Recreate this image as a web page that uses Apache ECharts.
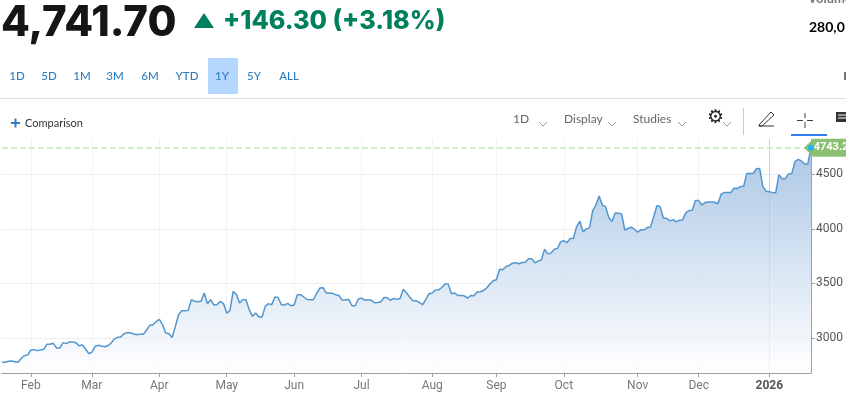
<!DOCTYPE html>
<html>
<head>
<meta charset="utf-8">
<title>Index chart</title>
<script src="https://cdn.jsdelivr.net/npm/echarts@6/dist/echarts.min.js"></script>
<style>
  html, body { margin: 0; padding: 0; background: #fff; overflow: hidden; }
  #chart { width: 846px; height: 395px; }
</style>
</head>
<body>
<div id="chart"></div>
<script>
// closing values, one per trading day
const closes = [
  2778,2778,2787,2790,2784,2778,2815,2839,2845,2891,
  2894,2885,2891,2897,2943,2943,2952,2909,2909,2958,
  2949,2964,2964,2958,2930,2937,2900,2857,2870,2924,
  2934,2927,2921,2930,2955,2991,3007,3010,3040,3049,
  3049,3037,3031,3034,3034,3071,3116,3122,3150,3171,
  3123,3046,3040,3005,3107,3214,3251,3251,3254,3351,
  3336,3333,3336,3412,3315,3351,3302,3308,3336,3315,
  3229,3251,3427,3400,3321,3351,3351,3260,3199,3229,
  3193,3193,3290,3315,3305,3376,3372,3305,3302,3318,
  3296,3302,3397,3397,3376,3354,3351,3351,3406,3458,
  3461,3412,3412,3409,3396,3387,3345,3351,3354,3296,
  3296,3357,3366,3348,3348,3348,3323,3326,3332,3372,
  3369,3345,3363,3354,3363,3448,3412,3375,3342,3342,
  3326,3305,3351,3406,3412,3439,3442,3463,3494,3494,
  3406,3412,3390,3390,3387,3366,3390,3387,3421,3424,
  3436,3460,3495,3525,3534,3631,3625,3656,3665,3686,
  3689,3680,3692,3695,3726,3726,3689,3707,3714,3814,
  3771,3778,3814,3820,3881,3893,3875,3912,3915,4021,
  4070,3973,4000,4009,4168,4219,4302,4216,4204,4104,
  4067,4146,4143,4137,3988,4003,4015,3997,3970,3991,
  3991,4012,4018,4113,4213,4204,4100,4097,4073,4085,
  4064,4079,4082,4146,4168,4171,4259,4259,4219,4241,
  4247,4247,4244,4229,4317,4332,4332,4332,4372,4369,
  4387,4390,4506,4506,4509,4551,4554,4387,4344,4341,
  4332,4329,4497,4460,4460,4503,4506,4615,4637,4622,
  4594,4594,4743.2
];
// where each month starts in the list above
const monthLabels = ['Feb','Mar','Apr','May','Jun','Jul','Aug','Sep','Oct','Nov','Dec','2026'];
const monthIndex = [9,28,49,70,91,112,134,154,175,198,217,239];
const yTicks = [3000,3500,4000,4500];
const lastValue = 4743.2;
const rangeLabels = ['1D','5D','1M','3M','6M','YTD','1Y','5Y','ALL'];
const rangeCenters = [17,49,82,115,150,187,222,254,289];

const categories = closes.map(function (v, i) {
  const k = monthIndex.indexOf(i);
  return k >= 0 ? monthLabels[k] : '';
});
const isMonth = function (index) { return monthIndex.indexOf(index) >= 0; };

const FONT = 'Lato, "Open Sans", sans-serif';
const ui = function (text, x, y, size, color, weight, align, family) {
  return {
    type: 'text', x: x, y: y, silent: true,
    style: { text: text, fontFamily: family || FONT, fontSize: size, fontWeight: weight || 400,
      fill: color, align: align || 'left', verticalAlign: 'middle' }
  };
};
const stroke = function (points, color, width) {
  return { type: 'polyline', silent: true, shape: { points: points },
    style: { fill: null, stroke: color, lineWidth: width || 1 } };
};
const chevron = function (x, y) {
  return stroke([[x, y], [x + 4, y + 4], [x + 8, y]], '#999');
};

// page header and toolbar around the chart
const chrome = [
  ui('4,741.70', 1, 23, 42, '#151515', 800, 'left', 'Inter'),
  { type: 'polygon', silent: true, shape: { points: [[204, 13], [214, 28], [194, 28]] }, style: { fill: '#007f5c' } },
  ui('+146.30 (+3.18%)', 223, 21, 25.2, '#007f5c', 800, 'left', 'Inter'),
  ui('Volume', 808, -1, 13, '#777', 700),
  ui('280,0', 809, 27, 14, '#000', 700),
  { type: 'rect', silent: true, shape: { x: 208, y: 58, width: 30, height: 36 }, style: { fill: '#b3d7ff' } },
  { type: 'rect', silent: true, shape: { x: 0, y: 98, width: 846, height: 1 }, style: { fill: '#dddddd' } },
  { type: 'rect', silent: true, shape: { x: 844, y: 72, width: 2, height: 8 }, style: { fill: '#777' } },
  stroke([[11, 123], [20, 123]], '#2f7ec0', 2),
  stroke([[15.5, 118.5], [15.5, 127.5]], '#2f7ec0', 2),
  ui('Comparison', 25, 123.5, 11, '#333'),
  ui('1D', 513, 119.5, 12, '#666'),
  chevron(539, 122),
  ui('Display', 564, 119.5, 12, '#666'),
  chevron(608, 122),
  ui('Studies', 633, 119.5, 12, '#666'),
  chevron(678, 122),
  ui('\u2699', 707, 118, 19, '#222', 700, 'left', 'DejaVu Sans'),
  chevron(723, 122),
  { type: 'rect', silent: true, shape: { x: 743, y: 108, width: 1, height: 27 }, style: { fill: '#cccccc' } },
  stroke([[759, 125], [771, 112], [774, 115], [762, 126], [759, 126], [759, 125]], '#333'),
  stroke([[759, 126], [774, 126]], '#333'),
  stroke([[805, 113], [805, 118]], '#444'),
  stroke([[805, 122], [805, 128]], '#444'),
  stroke([[797, 120.5], [803, 120.5]], '#444'),
  stroke([[807, 120.5], [813, 120.5]], '#444'),
  { type: 'rect', silent: true, shape: { x: 791, y: 134, width: 36, height: 2 }, style: { fill: '#2f7ef5' } },
  { type: 'rect', silent: true, shape: { x: 836, y: 112, width: 10, height: 10 }, style: { fill: '#333' } },
  stroke([[838, 115], [846, 115]], '#fff'),
  stroke([[838, 118], [846, 118]], '#fff')
];
rangeLabels.forEach(function (label, i) {
  chrome.push(ui(label, rangeCenters[i], 76, 11.5, '#2f7ec0', 500, 'center'));
});

const chart = echarts.init(document.getElementById('chart'));
chart.setOption({
  animation: false,
  backgroundColor: '#fff',
  graphic: chrome,
  grid: { left: 2, right: 34, top: 139, bottom: 22 },
  xAxis: {
    type: 'category',
    data: categories,
    boundaryGap: false,
    axisLine: { lineStyle: { color: '#a0a0a0', width: 1 } },
    axisTick: { interval: isMonth, length: 4, lineStyle: { color: '#a0a0a0' } },
    axisLabel: {
      interval: isMonth, color: '#777', fontSize: 12, margin: 7,
      fontFamily: 'Roboto, sans-serif',
      formatter: function (v) { return v === '2026' ? '{y|2026}' : v; },
      rich: { y: { color: '#555', fontWeight: 700, fontSize: 12, fontFamily: 'Roboto, sans-serif' } }
    },
    splitLine: {
      show: true, interval: isMonth,
      lineStyle: { color: ['#f2f2f2','#f2f2f2','#f2f2f2','#f2f2f2','#f2f2f2','#f2f2f2','#f2f2f2','#f2f2f2','#f2f2f2','#f2f2f2','#f2f2f2','#cfcfcf'] }
    }
  },
  yAxis: {
    type: 'value',
    position: 'right',
    min: 2680,
    max: 4823,
    axisLine: { show: true, lineStyle: { color: '#a0a0a0', width: 1 } },
    axisTick: { show: true, length: 4, customValues: yTicks, lineStyle: { color: '#a0a0a0' } },
    axisLabel: {
      customValues: yTicks, color: '#555', fontSize: 12, margin: 5, fontFamily: 'Roboto, sans-serif',
      formatter: function (v) { return String(v); }
    },
    splitLine: { show: true, lineStyle: { color: '#eeeeee' } }
  },
  series: [{
    type: 'line',
    data: closes,
    showSymbol: false,
    silent: true,
    lineStyle: { color: '#5296cf', width: 1.5 },
    areaStyle: {
      color: new echarts.graphic.LinearGradient(0, 0, 0, 1, [
        { offset: 0, color: '#88b0db' },
        { offset: 1, color: '#ffffff' }
      ])
    },
    markLine: {
      silent: true,
      symbol: 'none',
      label: { show: false },
      lineStyle: { color: '#c9e6b5', type: 'dashed', width: 1.5 },
      data: [{ yAxis: lastValue }]
    },
    markPoint: {
      silent: true,
      data: [
        {
          coord: [closes.length - 1, lastValue],
          symbol: 'path://M0 50L20 0H100V100H20Z',
          symbolKeepAspect: false,
          symbolSize: [46, 18],
          symbolOffset: [16, 0],
          itemStyle: { color: '#8bbf72' },
          label: { show: true, position: 'inside', offset: [4, 0], formatter: String(lastValue),
            color: '#fff', fontWeight: 700, fontSize: 11, fontFamily: 'Roboto, sans-serif',
            overflow: 'none', width: 60 }
        },
        {
          coord: [closes.length - 1, lastValue],
          symbol: 'circle',
          symbolSize: 6,
          itemStyle: { color: '#1fb6f5' },
          label: { show: false }
        }
      ]
    }
  }]
});
</script>
</body>
</html>
